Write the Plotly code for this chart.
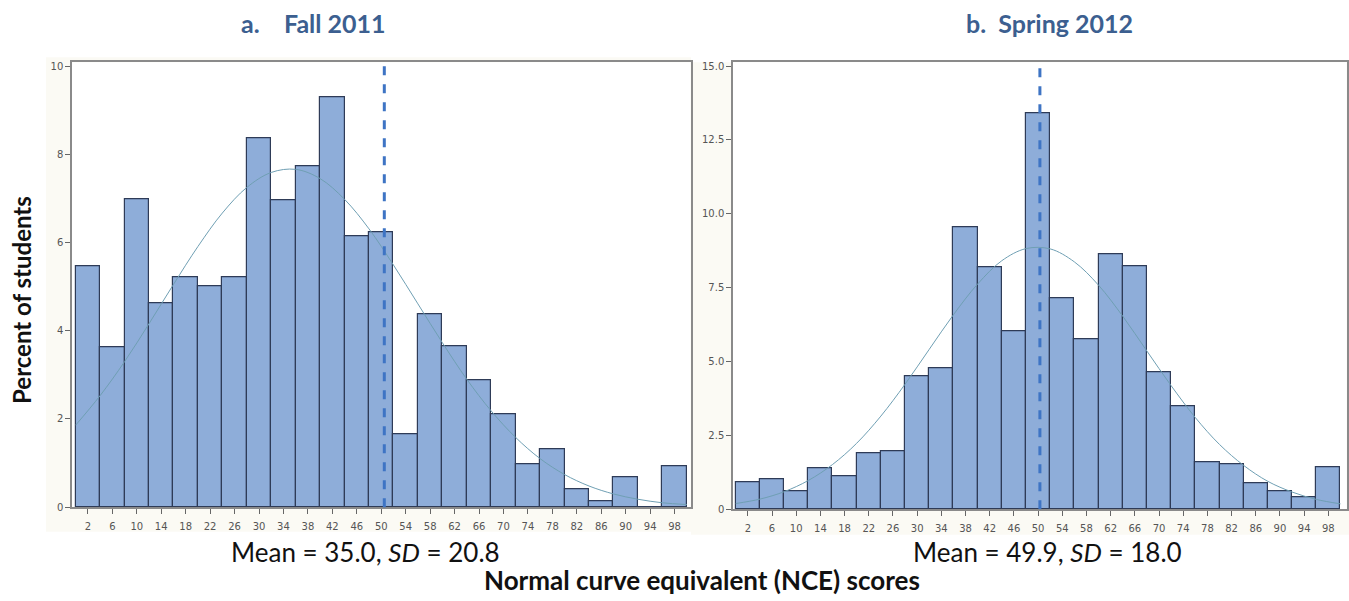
import plotly.graph_objects as go

# ---------------- data ----------------
bin_centers = [2, 6, 10, 14, 18, 22, 26, 30, 34, 38, 42, 46, 50,
               54, 58, 62, 66, 70, 74, 78, 82, 86, 90, 94, 98]
fall_pct = [5.47, 3.62, 6.99, 4.62, 5.22, 5.02, 5.22, 8.37, 6.96, 7.73, 9.30, 6.14, 6.24,
            1.66, 4.38, 3.64, 2.89, 2.11, 0.98, 1.31, 0.40, 0.13, 0.67, 0.0, 0.93]
spring_pct = [0.91, 1.03, 0.62, 1.39, 1.11, 1.90, 1.97, 4.49, 4.76, 9.54, 8.18, 6.03, 13.41,
              7.13, 5.76, 8.62, 8.23, 4.64, 3.48, 1.59, 1.52, 0.89, 0.60, 0.39, 1.41]

curve_x = [0, 4, 8, 12, 16, 20, 24, 28, 32, 36, 40, 44, 48, 52,
           56, 60, 64, 68, 72, 76, 80, 84, 88, 92, 96, 100]
fall_curve = [1.86, 2.53, 3.30, 4.16, 5.05, 5.91, 6.67, 7.25, 7.59, 7.66, 7.45, 6.98, 6.31, 5.49,
              4.61, 3.73, 2.90, 2.18, 1.58, 1.10, 0.74, 0.48, 0.30, 0.18, 0.10, 0.06]
spring_curve = [0.19, 0.34, 0.59, 0.97, 1.51, 2.23, 3.15, 4.23, 5.41, 6.58, 7.62, 8.41, 8.82, 8.81,
                8.37, 7.58, 6.53, 5.35, 4.18, 3.10, 2.19, 1.48, 0.94, 0.58, 0.33, 0.18]

ref_line = [50.5, 50.3]

x_tick_vals = bin_centers
fall_y_ticks = [0, 2, 4, 6, 8, 10]
fall_y_labels = ["0", "2", "4", "6", "8", "10"]
spring_y_ticks = [0, 2.5, 5.0, 7.5, 10.0, 12.5, 15.0]
spring_y_labels = ["0", "2.5", "5.0", "7.5", "10.0", "12.5", "15.0"]

panel_titles = ["a.&nbsp;&nbsp;&nbsp;&nbsp;Fall 2011", "b.&nbsp;&nbsp;Spring 2012"]
stats_text = ["Mean = 35.0, <i>SD</i> = 20.8", "Mean = 49.9, <i>SD</i> = 18.0"]
y_title = "Percent of students"
x_title = "Normal curve equivalent (NCE) scores"

# ---------------- styles ----------------
W, H = 1349, 601
BAR_FILL = "#8EADD9"
BAR_LINE = "#2E3B57"
CURVE = "#6F9FB3"
DASH = "#3E74C4"
TITLE_C = "#3C5F90"
FRAME = "#8A8A8A"
TICKFONT = dict(family="DejaVu Sans", size=10, color="#555555")
BEIGE = "#FBFAF4"

fig = go.Figure()

for i, (vals, curve) in enumerate([(fall_pct, fall_curve), (spring_pct, spring_curve)]):
    xa = "x" if i == 0 else "x2"
    ya = "y" if i == 0 else "y2"
    fig.add_trace(go.Bar(x=bin_centers, y=vals, width=4, xaxis=xa, yaxis=ya,
                         marker=dict(color=BAR_FILL, line=dict(color=BAR_LINE, width=1.2)),
                         showlegend=False, hoverinfo="skip"))
    fig.add_trace(go.Scatter(x=curve_x, y=curve, mode="lines", xaxis=xa, yaxis=ya,
                             line=dict(color=CURVE, width=1, shape="spline"),
                             showlegend=False, hoverinfo="skip"))

# domains (pixels -> paper)
lx0, lx1 = 72 / W, 690.5 / W
rx0, rx1 = 733 / W, 1346.5 / W
ly0, ly1 = 1 - 512 / H, 1 - 61 / H
ry0, ry1 = 1 - 514 / H, 1 - 61 / H

axis_common = dict(showline=True, linecolor=FRAME, linewidth=1.5, mirror=True,
                   ticks="outside", ticklen=5, tickcolor="#666666", tickwidth=1,
                   showgrid=False, zeroline=False, tickfont=TICKFONT)

fig.update_layout(
    width=W, height=H,
    margin=dict(l=0, r=0, t=0, b=0),
    paper_bgcolor="white",
    plot_bgcolor="white",
    bargap=0,
    xaxis=dict(domain=[lx0, lx1], range=[-0.6, 100.6], tickmode="array",
               tickvals=x_tick_vals, anchor="y", ticklabelstandoff=4, **axis_common),
    yaxis=dict(domain=[ly0, ly1], range=[0, 10.09], tickmode="array",
               tickvals=fall_y_ticks, ticktext=fall_y_labels, anchor="x", **axis_common),
    xaxis2=dict(domain=[rx0, rx1], range=[-0.45, 101.0], tickmode="array",
                tickvals=x_tick_vals, anchor="y2", ticklabelstandoff=4, **axis_common),
    yaxis2=dict(domain=[ry0, ry1], range=[0, 15.13], tickmode="array",
                tickvals=spring_y_ticks, ticktext=spring_y_labels, anchor="x2", **axis_common),
)

# beige panel backgrounds, then white plot areas
shapes = [
    dict(type="rect", xref="paper", yref="paper", x0=46 / W, x1=691 / W,
         y0=1 - 537 / H, y1=1 - 56 / H, fillcolor=BEIGE, line=dict(width=0), layer="below"),
    dict(type="rect", xref="paper", yref="paper", x0=691 / W, x1=1.0,
         y0=1 - 540 / H, y1=1 - 61 / H, fillcolor=BEIGE, line=dict(width=0), layer="below"),
    dict(type="rect", xref="x domain", yref="y domain", x0=0, x1=1, y0=0, y1=1,
         fillcolor="white", line=dict(width=0), layer="below"),
    dict(type="rect", xref="x2 domain", yref="y2 domain", x0=0, x1=1, y0=0, y1=1,
         fillcolor="white", line=dict(width=0), layer="below"),
]
# dashed reference lines
for i, xv in enumerate(ref_line):
    xa = "x" if i == 0 else "x2"
    ya = "y domain" if i == 0 else "y2 domain"
    shapes.append(dict(type="line", xref=xa, yref=ya, x0=xv, x1=xv, y0=0, y1=1,
                       line=dict(color=DASH, width=3, dash="dash"), layer="above"))
fig.update_layout(shapes=shapes)

ann = []
title_x = [313 / W, 1049 / W]
stats_x = [365 / W, 1047 / W]
for i in range(2):
    ann.append(dict(text="<b>" + panel_titles[i] + "</b>", x=title_x[i], y=1 - 21 / H,
                    xref="paper", yref="paper", showarrow=False,
                    xanchor="center", yanchor="middle",
                    font=dict(family="Lato", size=25, color=TITLE_C)))
    ann.append(dict(text=stats_text[i], x=stats_x[i], y=1 - 557 / H,
                    xref="paper", yref="paper", showarrow=False,
                    xanchor="center", yanchor="middle",
                    font=dict(family="Lato", size=26, color="#111111")))
ann.append(dict(text="<b>" + x_title + "</b>", x=702 / W, y=1 - 586 / H,
                xref="paper", yref="paper", showarrow=False,
                xanchor="center", yanchor="middle",
                font=dict(family="Lato", size=26, color="#111111")))
ann.append(dict(text="<b>" + y_title + "</b>", x=22 / W, y=1 - 302 / H, textangle=-90,
                xref="paper", yref="paper", showarrow=False, xanchor="center", yanchor="middle",
                font=dict(family="Lato", size=24, color="#111111")))
fig.update_layout(annotations=ann)

fig.write_html("out.html", config={"displayModeBar": False},
               post_script="document.body.style.margin='0px';")
